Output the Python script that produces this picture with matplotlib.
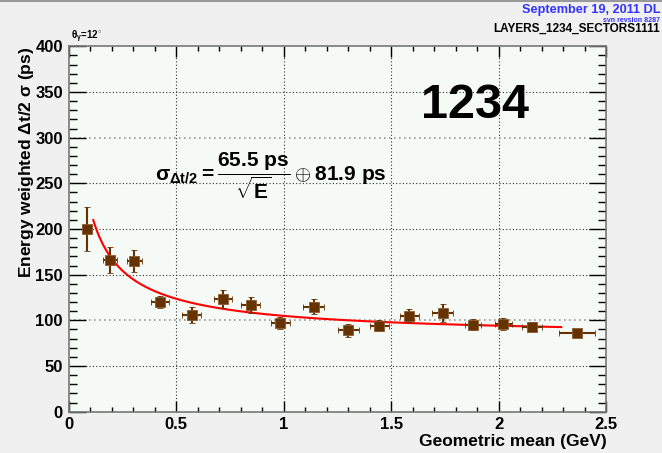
import matplotlib
matplotlib.use("Agg")
import matplotlib.pyplot as plt
import numpy as np
from matplotlib.ticker import MultipleLocator

plt.rcParams["font.family"] = ["Liberation Sans", "DejaVu Sans"]
plt.rcParams["font.weight"] = "bold"
plt.rcParams["mathtext.fontset"] = "custom"
plt.rcParams["mathtext.rm"] = "Liberation Sans:bold"
plt.rcParams["mathtext.it"] = "Liberation Sans:bold"
plt.rcParams["mathtext.bf"] = "Liberation Sans:bold"
plt.rcParams["mathtext.sf"] = "Liberation Sans:bold"

# measured points (geometric mean in GeV, sigma in ps)
energy = [0.085, 0.193, 0.305, 0.426, 0.573, 0.717, 0.847, 0.985, 1.139,
          1.300, 1.444, 1.584, 1.739, 1.880, 2.020, 2.154, 2.364]
sigma = [200, 166, 165, 120, 106, 123, 117, 97, 115,
         89, 94, 105, 108, 95, 96, 93, 86]
sigma_err = [24, 14, 12, 7, 9, 10, 9, 7, 8,
             7, 6, 7, 10, 6, 7, 5, 1]
energy_err = [0.01, 0.034, 0.035, 0.043, 0.044, 0.041, 0.043, 0.045, 0.05,
              0.048, 0.044, 0.043, 0.048, 0.035, 0.039, 0.047, 0.083]

# fit parameters
stoch_term = 65.5
const_term = 81.9
fit_range = (0.115, 2.29)

x_ticks = [0, 0.5, 1, 1.5, 2, 2.5]
x_tick_labels = ["0", "0.5", "1", "1.5", "2", "2.5"]
y_ticks = [0, 50, 100, 150, 200, 250, 300, 350, 400]


def main():
    fig = plt.figure(figsize=(6.62, 4.53), dpi=100, facecolor="#f0f0f0")
    ax = fig.add_axes([0.1035, 0.0912, 0.8125, 0.8066])
    ax.set_facecolor("#f5faf6")

    ax.set_xlim(0, 2.5)
    ax.set_ylim(0, 400)

    # grid
    for xv in x_ticks[1:-1]:
        ax.axvline(xv, color="#333333", ls=(0, (1, 2)), lw=0.8, zorder=1)
    for yv in y_ticks[1:-1]:
        c = "#999999" if yv in (100, 300) else "#333333"
        w = 1.2 if yv in (100, 300) else 0.8
        ax.axhline(yv, color=c, ls=(0, (1, 2)), lw=w, zorder=1)

    # fit curve
    e = np.linspace(fit_range[0], fit_range[1], 300)
    fit = np.sqrt((stoch_term / np.sqrt(e)) ** 2 + const_term ** 2)
    ax.plot(e, fit, color="#ff0000", lw=1.5, zorder=2)

    ax.errorbar(energy, sigma, yerr=sigma_err, xerr=energy_err, fmt="s",
                color="#663300", ms=7.5, mec="#8a5a30", mew=0.6, elinewidth=1.5,
                capsize=2, capthick=1.5, zorder=3)

    ax.xaxis.set_major_locator(MultipleLocator(0.5))
    ax.xaxis.set_minor_locator(MultipleLocator(0.1))
    ax.yaxis.set_major_locator(MultipleLocator(50))
    ax.yaxis.set_minor_locator(MultipleLocator(10))
    ax.set_xticks(x_ticks)
    ax.set_xticklabels(x_tick_labels)
    ax.set_yticks(y_ticks)

    ax.tick_params(axis="x", which="major", direction="in", length=8, width=1,
                   top=True, labelsize=12, pad=4)
    ax.tick_params(axis="x", which="minor", direction="in", length=3.3, width=1,
                   top=True)
    ax.tick_params(axis="y", which="major", direction="in", length=12, width=1,
                   right=True, labelsize=12, pad=4)
    ax.tick_params(axis="y", which="minor", direction="in", length=5.8, width=1,
                   right=True)
    for lab in ax.get_xticklabels() + ax.get_yticklabels():
        lab.set_fontweight("bold")

    for sp in ax.spines.values():
        sp.set_color("#777777")
        sp.set_linewidth(1.2)

    ax.set_xlabel("Geometric mean (GeV)", fontsize=12.5, fontweight="bold")
    ax.xaxis.set_label_coords(1.0, -0.062)
    ax.xaxis.label.set_horizontalalignment("right")
    ax.set_ylabel(r"Energy weighted $\Delta$t/2 $\sigma$ (ps)", fontsize=12.5,
                  fontweight="bold")
    ax.yaxis.set_label_coords(-0.06, 1.0)
    ax.yaxis.label.set_horizontalalignment("right")

    ax.text(1.89, 335, "1234", fontsize=35, fontweight="bold",
            ha="center", va="center")
    ax.text(0.942, 258,
            r"$\sigma_{\Delta t/2} = \dfrac{65.5\ ps}{\sqrt{E}} \oplus 81.9\ ps$",
            fontsize=15, ha="center", va="center")

    fig.text(0.108, 0.918, r"$\theta_{\gamma}$=12$^{\circ}$", fontsize=7,
             fontweight="bold", ha="left", va="center")
    fig.text(0.997, 0.977, "September 19, 2011 DL", fontsize=9.2,
             fontweight="bold", color="#3333ff", ha="right", va="center")
    fig.text(0.997, 0.955, "svn revsion 8287", fontsize=5,
             fontweight="bold", color="#3333ff", ha="right", va="center")
    fig.text(0.997, 0.937, "LAYERS_1234_SECTORS1111", fontsize=8.5,
             fontweight="bold", color="black", ha="right", va="center")

    # canvas border at the top
    fig.add_artist(plt.Line2D([0, 1], [0.998, 0.998], color="#999999", lw=1.5,
                              transform=fig.transFigure))

    fig.savefig("out.png", dpi=100, facecolor=fig.get_facecolor())


if __name__ == "__main__":
    main()
